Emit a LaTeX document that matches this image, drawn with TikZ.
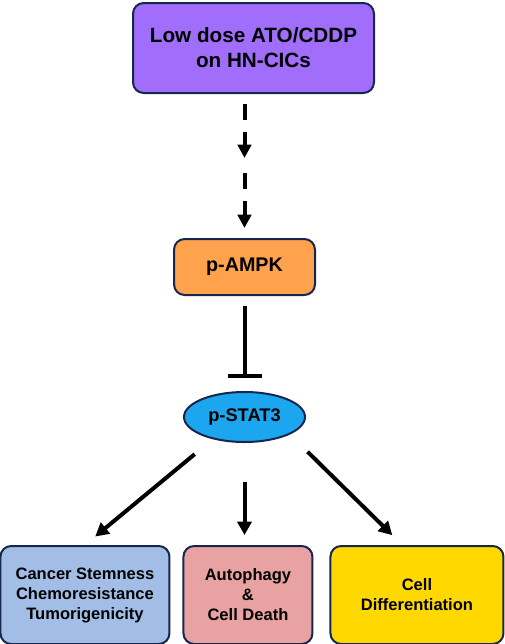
\documentclass[tikz,border=0pt]{standalone}
\usepackage{fontspec}
\setmainfont{Liberation Sans}
\usetikzlibrary{
    positioning, % posicionamento relativo (below=of)
    arrows.meta, % pontas de seta
    shapes.geometric % elipse
}

\definecolor{contorno}{RGB}{22,38,78}
\definecolor{roxo}{RGB}{160,110,250}
\definecolor{laranja}{RGB}{255,162,78}
\definecolor{azulstat}{RGB}{28,166,240}
\definecolor{azulclaro}{RGB}{162,190,230}
\definecolor{rosa}{RGB}{232,162,162}
\definecolor{amarelo}{RGB}{255,216,0}

\begin{document}
\begin{tikzpicture}[x=0.75pt, y=-0.75pt]

    % --- Estilos ---
    \tikzset{
        % caixas arredondadas
        caixa/.style={
            draw=contorno,
            line width=1.5pt,
            rounded corners=8pt,
            align=center,
            inner sep=0pt
        },
        % caixas de baixo
        efeito/.style={
            caixa,
            minimum height=73.5pt,
            font=\fontsize{12.4pt}{15pt}\selectfont\bfseries
        },
        % seta tracejada
        seta_trac/.style={
            line width=3pt,
            -{Triangle[length=10pt, width=10pt]},
            dash pattern=on 12pt off 9pt on 40pt off 0pt
        },
        % seta cheia
        seta/.style={
            line width=3pt,
            -{Triangle[length=10pt, width=10.5pt]}
        },
        % inibição
        inibe/.style={
            line width=3pt,
            -{Bar[width=25.5pt]}
        }
    }

    \useasboundingbox (0,0) rectangle (505,644);

    % --- Nós ---

    % Tratamento
    \node[caixa, fill=roxo, minimum width=180.75pt, minimum height=67.5pt,
          font=\fontsize{15.5pt}{18.75pt}\selectfont\bfseries] (trat) at (253.5,48)
          {Low dose ATO/CDDP\\on HN-CICs};

    % p-AMPK
    \node[caixa, fill=laranja, minimum width=105.75pt, minimum height=42pt,
          font=\fontsize{14.8pt}{17pt}\selectfont\bfseries,
          below=108pt of trat, xshift=-6.75pt] (ampk) {p-AMPK};

    % p-STAT3
    \node[ellipse, draw=contorno, line width=1.5pt, fill=azulstat, inner sep=0pt,
          minimum width=90.75pt, minimum height=37.5pt,
          font=\fontsize{13.7pt}{16pt}\selectfont\bfseries,
          below=71.25pt of ampk] (stat) {p-STAT3};

    % Efeitos
    \node[efeito, fill=rosa, minimum width=96.75pt,
          below=76.5pt of stat, xshift=2.6pt] (autof) {Autophagy\\\&\\Cell Death};
    \node[efeito, fill=azulclaro, minimum width=126.75pt,
          left=9pt of autof] (stem) {Cancer Stemness\\Chemoresistance\\Tumorigenicity};
    \node[efeito, fill=amarelo, minimum width=129.75pt,
          right=12pt of autof] (difer) {Cell\\Differentiation};

    \coordinate (meio) at ([yshift=54pt]ampk.north);

    % --- Setas ---
    \draw[seta_trac, shorten <=7.5pt, shorten >=6pt] (ampk.north |- trat.south) -- (meio);
    \draw[seta_trac, shorten <=5.25pt, shorten >=7.5pt] (meio) -- (ampk.north);

    \draw[inibe, shorten <=7.5pt, shorten >=9.75pt] (ampk.south) -- (stat.north);

    \draw[seta, shorten <=17.5pt, shorten >=10pt] (stat.215) -- (stem.north);
    \draw[seta, shorten <=29pt, shorten >=7.5pt] (stat.south) -- (stat.south |- autof.north);
    \draw[seta, shorten <=18.5pt, shorten >=10.5pt] (stat.339) -- ([xshift=-11pt]difer.north);

\end{tikzpicture}
\end{document}
